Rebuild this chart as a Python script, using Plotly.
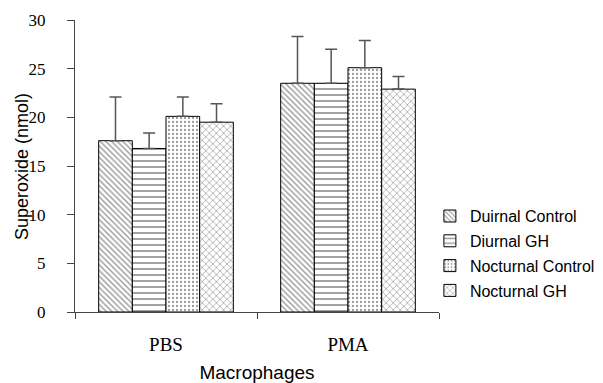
import plotly.graph_objects as go

categories = ["PBS", "PMA"]
series_names = ["Duirnal Control", "Diurnal GH", "Nocturnal Control", "Nocturnal GH"]
values = {
    "Duirnal Control": [17.6, 23.5],
    "Diurnal GH": [16.8, 23.5],
    "Nocturnal Control": [20.1, 25.1],
    "Nocturnal GH": [19.5, 22.9],
}
errors = {
    "Duirnal Control": [4.5, 4.8],
    "Diurnal GH": [1.6, 3.5],
    "Nocturnal Control": [2.0, 2.8],
    "Nocturnal GH": [1.9, 1.3],
}
patterns = {
    "Duirnal Control": ("\\", 4, 0.35),
    "Diurnal GH": ("-", 6, 0.3),
    "Nocturnal Control": (".", 4, 0.25),
    "Nocturnal GH": ("x", 5, 0.25),
}

fig = go.Figure()
for i, name in enumerate(series_names):
    shape, size, sol = patterns[name]
    fig.add_trace(go.Bar(
        x=categories, y=values[name], name=name,
        legendgroup=f"g{i}",
        marker=dict(
            color="white",
            line=dict(color="black", width=1),
            pattern=dict(shape=shape, size=size, solidity=sol, fgcolor="#333333", bgcolor="white", fillmode="overlay"),
        ),
        error_y=dict(type="data", array=errors[name], arrayminus=[0, 0], symmetric=False,
                     color="#555555", thickness=1.5, width=6),
    ))

fig.update_layout(
    width=603, height=383,
    paper_bgcolor="white", plot_bgcolor="white",
    margin=dict(l=75, r=164, t=20, b=71, autoexpand=False),
    barmode="group", bargap=0.26, bargroupgap=0,
    showlegend=True,
    legend=dict(x=0.975, y=0.2, xanchor="left", yanchor="middle",
                font=dict(family="Liberation Sans, Arial", size=16, color="black"),
                tracegroupgap=1, bgcolor="rgba(0,0,0,0)"),
    font=dict(family="Liberation Serif, Times New Roman", color="black"),
    annotations=[dict(
        text="Superoxide (nmol)", xref="paper", yref="paper",
        x=(22 - 75) / 364, y=0.5, xanchor="center", yanchor="middle",
        textangle=-90, showarrow=False,
        font=dict(family="Liberation Sans, Arial", size=18, color="black"),
    )],
)
fig.update_xaxes(
    automargin=False,
    showline=True, linecolor="#444444", linewidth=1,
    ticks="outside", tickson="boundaries", ticklen=6, tickcolor="#444444",
    ticklabelstandoff=15,
    tickfont=dict(family="Liberation Serif, Times New Roman", size=19, color="black"),
    title=dict(text="Macrophages", font=dict(family="Liberation Sans, Arial", size=19, color="black"), standoff=12),
    showgrid=False,
)
fig.update_yaxes(
    automargin=False,
    range=[0, 30], dtick=5,
    showline=True, linecolor="#444444", linewidth=1,
    ticks="outside", ticklen=7, tickcolor="#444444",
    ticklabelstandoff=18,
    tickfont=dict(family="Liberation Serif, Times New Roman", size=17, color="black"),
    showgrid=False, zeroline=False,
)

fig.write_html("out.html", config={"displayModeBar": False},
               post_script="document.body.style.margin='0';document.body.style.overflow='hidden';")
